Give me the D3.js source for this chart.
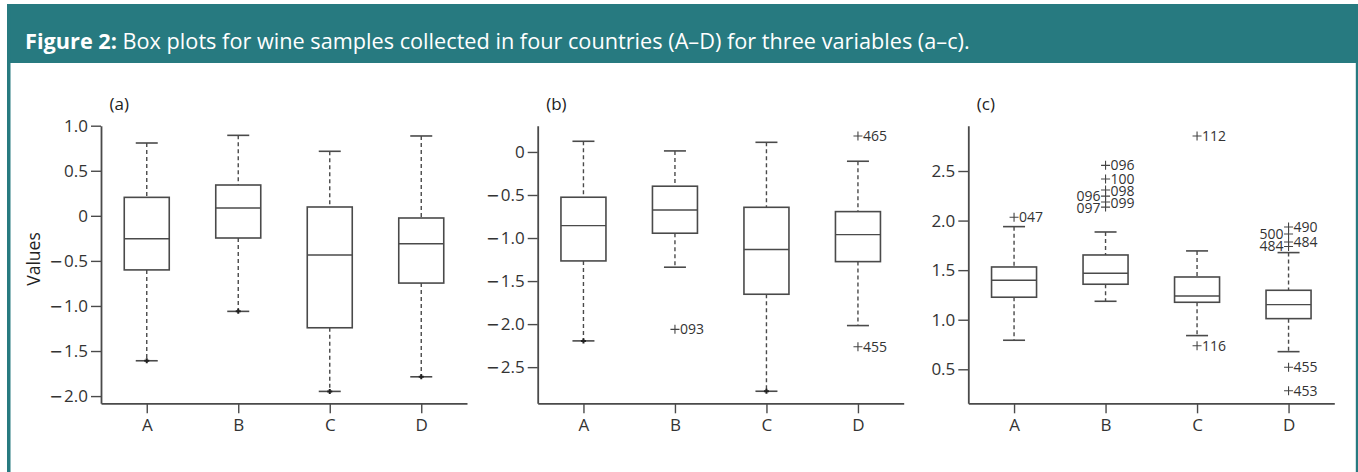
<!DOCTYPE html>
<html>
<head>
<meta charset="utf-8">
<script src="https://cdn.jsdelivr.net/npm/d3@7"></script>
<style>
  body { margin: 0; background: #fff; }
  text { font-family: "Open Sans", "Noto Sans", sans-serif; }
</style>
</head>
<body>
<svg id="chart" width="1358" height="472"></svg>
<script>
// Countries on the x axis of every panel
const countries = ["A", "B", "C", "D"];

// Box summaries per country: [lower whisker, Q1, median, Q3, upper whisker]
const boxesA = [
  [-1.608, -0.600, -0.254, 0.205, 0.808],
  [-1.060, -0.246, 0.087, 0.342, 0.893],
  [-1.948, -1.242, -0.435, 0.098, 0.716],
  [-1.786, -0.746, -0.310, -0.024, 0.886]
];
const boxesB = [
  [-2.195, -1.266, -0.856, -0.526, 0.124],
  [-1.339, -0.944, -0.674, -0.398, 0.012],
  [-2.780, -1.653, -1.134, -0.643, 0.112],
  [-2.017, -1.274, -0.960, -0.693, -0.108]
];
const boxesC = [
  [0.793, 1.227, 1.398, 1.532, 1.939],
  [1.186, 1.358, 1.469, 1.653, 1.885],
  [0.840, 1.176, 1.240, 1.431, 1.694],
  [0.678, 1.011, 1.152, 1.297, 1.677]
];

// Outlying samples: [country, value, sample id, label side]
const outliersA = [
  ["A", -1.608, "", "right"],
  ["B", -1.060, "", "right"],
  ["C", -1.948, "", "right"],
  ["D", -1.786, "", "right"]
];
const outliersB = [
  ["A", -2.195, "", "right"],
  ["C", -2.780, "", "right"],
  ["B", -2.061, "093", "right"],
  ["D", 0.185, "465", "right"],
  ["D", -2.263, "455", "right"]
];
const outliersC = [
  ["A", 2.033, "047", "right"],
  ["B", 2.557, "096", "right"],
  ["B", 2.420, "100", "right"],
  ["B", 2.308, "098", "right"],
  ["B", 2.247, "096", "left"],
  ["B", 2.187, "099", "right"],
  ["B", 2.136, "097", "left"],
  ["C", 2.853, "112", "right"],
  ["C", 0.738, "116", "right"],
  ["D", 1.935, "490", "right"],
  ["D", 1.865, "500", "left"],
  ["D", 1.784, "484", "right"],
  ["D", 1.738, "484", "left"],
  ["D", 0.520, "455", "right"],
  ["D", 0.284, "453", "right"]
];

// Y axis ticks and their printed labels
const ticksA = [1.0, 0.5, 0, -0.5, -1.0, -1.5, -2.0];
const tickLabelsA = ["1.0", "0.5", "0", "\u22120.5", "\u22121.0", "\u22121.5", "\u22122.0"];
const ticksB = [0, -0.5, -1.0, -1.5, -2.0, -2.5];
const tickLabelsB = ["0", "\u22120.5", "\u22121.0", "\u22121.5", "\u22122.0", "\u22122.5"];
const ticksC = [0.5, 1.0, 1.5, 2.0, 2.5];
const tickLabelsC = ["0.5", "1.0", "1.5", "2.0", "2.5"];

// Visible value range of each panel's y axis
const domainA = [-2.08, 1.0];
const domainB = [-2.92, 0.305];
const domainC = [0.157, 2.957];

const panelNames = ["(a)", "(b)", "(c)"];

const svg = d3.select("#chart");
const W = 1358, H = 472;
const teal = "#277a80";
const ink = "#4a4a4a";
const textInk = "#333";

// Frame: teal heading band with thin teal side rules
svg.append("rect").attr("x", 0).attr("y", 0).attr("width", W).attr("height", H).attr("fill", "#fff");
svg.append("rect").attr("x", 7).attr("y", 4).attr("width", W - 7).attr("height", 59).attr("fill", teal);
svg.append("rect").attr("x", 7).attr("y", 4).attr("width", 3.5).attr("height", H - 4).attr("fill", teal);
svg.append("rect").attr("x", 1355.8).attr("y", 4).attr("width", 2.2).attr("height", H - 4).attr("fill", teal);

const title = svg.append("text")
  .attr("x", 25).attr("y", 48.5)
  .attr("fill", "#fff")
  .style("font-size", "21.7px");
title.append("tspan").attr("font-weight", 700).text("Figure 2:");
title.append("tspan").text(" Box plots for wine samples collected in four countries (A\u2013D) for three variables (a\u2013c).");

const plotTop = 125.7, plotBottom = 403.3, plotW = 366;
const panelLefts = [101, 537.7, 968.3];

const panels = [
  { boxes: boxesA, outliers: outliersA, ticks: ticksA, labels: tickLabelsA, domain: domainA },
  { boxes: boxesB, outliers: outliersB, ticks: ticksB, labels: tickLabelsB, domain: domainB },
  { boxes: boxesC, outliers: outliersC, ticks: ticksC, labels: tickLabelsC, domain: domainC }
];

panels.forEach((p, pi) => {
  const left = panelLefts[pi];
  const g = svg.append("g");

  const x = d3.scalePoint().domain(countries).range([left, left + plotW]).padding(0.5);
  const y = d3.scaleLinear().domain(p.domain).range([plotBottom, plotTop]);

  // Y axis
  const yAxis = g.append("g")
    .attr("transform", `translate(${left},0)`)
    .call(d3.axisLeft(y).tickValues(p.ticks)
      .tickFormat((d, i) => p.labels[i])
      .tickSize(10).tickSizeOuter(0).tickPadding(3));

  // X axis
  const xAxis = g.append("g")
    .attr("transform", `translate(0,${plotBottom})`)
    .call(d3.axisBottom(x).tickSize(10).tickSizeOuter(0).tickPadding(6));

  [yAxis, xAxis].forEach(ax => {
    ax.select(".domain").attr("stroke", ink).attr("stroke-width", 1.8);
    ax.selectAll(".tick line").attr("stroke", ink).attr("stroke-width", 1.4);
    ax.selectAll(".tick text").attr("fill", textInk).style("font-size", "17px")
      .style("font-family", '"Open Sans", "Noto Sans", sans-serif');
  });

  // Give the minus sign of negative tick labels a long bar
  yAxis.selectAll(".tick text").each(function () {
    const t = d3.select(this);
    const s = t.text();
    if (s.startsWith("\u2212")) {
      t.text(null);
      t.append("tspan").style("font-family", '"DejaVu Sans", sans-serif').style("font-size", "16px").text("\u2212");
      t.append("tspan").attr("dx", 1.5).text(s.slice(1));
    }
  });

  // Panel caption
  g.append("text")
    .attr("x", left + 8.5).attr("y", 110)
    .attr("fill", "#222")
    .style("font-size", "17px")
    .text(panelNames[pi]);

  const boxW = 45, capW = 22;

  const box = g.selectAll("g.box")
    .data(p.boxes.map((b, i) => ({ c: countries[i], b })))
    .join("g").attr("class", "box");

  // Dashed whiskers
  box.append("line")
    .attr("x1", d => x(d.c)).attr("x2", d => x(d.c))
    .attr("y1", d => y(d.b[4])).attr("y2", d => y(d.b[3]))
    .attr("stroke", ink).attr("stroke-width", 1.4).attr("stroke-dasharray", "4,3");
  box.append("line")
    .attr("x1", d => x(d.c)).attr("x2", d => x(d.c))
    .attr("y1", d => y(d.b[1])).attr("y2", d => y(d.b[0]))
    .attr("stroke", ink).attr("stroke-width", 1.4).attr("stroke-dasharray", "4,3");

  // Whisker caps
  [0, 4].forEach(k => {
    box.append("line")
      .attr("x1", d => x(d.c) - capW / 2).attr("x2", d => x(d.c) + capW / 2)
      .attr("y1", d => y(d.b[k])).attr("y2", d => y(d.b[k]))
      .attr("stroke", ink).attr("stroke-width", 1.6);
  });

  // Interquartile box
  box.append("rect")
    .attr("x", d => x(d.c) - boxW / 2)
    .attr("y", d => y(d.b[3]))
    .attr("width", boxW)
    .attr("height", d => y(d.b[1]) - y(d.b[3]))
    .attr("fill", "none").attr("stroke", ink).attr("stroke-width", 1.6);

  // Median
  box.append("line")
    .attr("x1", d => x(d.c) - boxW / 2).attr("x2", d => x(d.c) + boxW / 2)
    .attr("y1", d => y(d.b[2])).attr("y2", d => y(d.b[2]))
    .attr("stroke", ink).attr("stroke-width", 1.4);

  // Outlier markers ("+") and sample ids
  const pts = p.outliers.map(o => ({ c: o[0], v: o[1], id: o[2], side: o[3] }));
  pts.forEach(d => { d.px = x(d.c); d.py = y(d.v); d.ly = d.py; });

  // Keep stacked ids on the same side of a marker from colliding
  const minGap = 12;
  d3.groups(pts.filter(d => d.id), d => d.c + d.side).forEach(([, grp]) => {
    grp.sort((a, b) => a.py - b.py);
    for (let i = 1; i < grp.length; i++) {
      if (grp[i].ly - grp[i - 1].ly < minGap) grp[i].ly = grp[i - 1].ly + minGap;
    }
  });

  const out = g.selectAll("g.out")
    .data(pts)
    .join("g").attr("class", "out")
    .attr("transform", d => `translate(${d.px},${d.py})`);

  out.append("path")
    .attr("d", d => d.id ? "M-4.5,0H4.5M0,-4.5V4.5" : "M-2.5,0H2.5M0,-2.5V2.5")
    .attr("stroke", d => d.id ? "#444" : "#222")
    .attr("stroke-width", d => d.id ? 1.1 : 2)
    .attr("fill", "none");

  out.filter(d => d.id)
    .append("text")
    .attr("x", d => d.side === "right" ? 5 : -5)
    .attr("y", d => d.ly - d.py)
    .attr("dy", "0.35em")
    .attr("text-anchor", d => d.side === "right" ? "start" : "end")
    .attr("fill", textInk)
    .style("font-size", "14px")
    .text(d => d.id);
});

// Shared y axis title
svg.append("text")
  .attr("transform", "translate(40,259) rotate(-90)")
  .attr("text-anchor", "middle")
  .attr("fill", "#222")
  .style("font-size", "17.5px")
  .text("Values");
</script>
</body>
</html>
